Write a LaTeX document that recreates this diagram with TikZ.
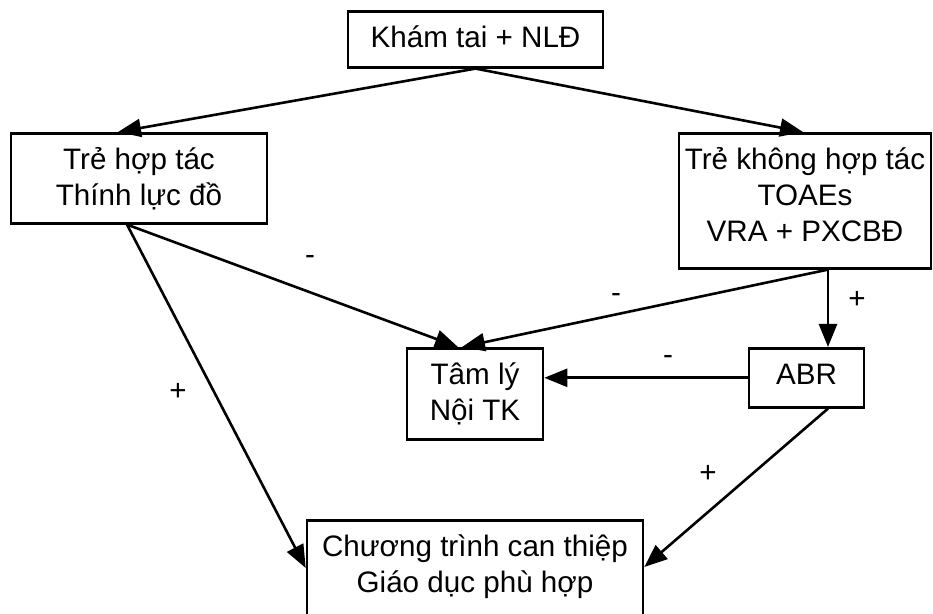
\documentclass[tikz,border=0pt]{standalone}
\usepackage{fontspec}
\setmainfont{Liberation Sans}
\usetikzlibrary{positioning, arrows.meta, calc}
\tikzset{
    box/.style={draw, line width=1.3pt, align=center, anchor=north, inner xsep=0pt, inner ysep=5.4pt, font=\fontsize{14.8}{18}\selectfont},
    sign/.style={font=\fontsize{14.8}{18}\selectfont, inner sep=0pt},
    arrow/.style={-{Triangle[length=11.5pt, width=9pt]}, line width=1.3pt}
}

\begin{document}
\begin{tikzpicture}[x=0.5pt, y=-0.5pt]
\useasboundingbox (0,0) rectangle (933,614);

% boxes
\node[box, minimum width=127.5pt, text depth=4.6pt] (kham) at (475.5,10) {\strut Khám tai + NLĐ};
\node[box, minimum width=128pt, text depth=3.6pt] (hoptac) at (139,132) {\strut Trẻ hợp tác\\Thính lực đồ};
\node[box, minimum width=126pt, text depth=8.1pt] (khongtac) at (805,132) {\strut Trẻ không hợp tác\\TOAEs\\VRA + PXCBĐ};
\node[box, minimum width=68pt, text depth=4.1pt] (tamly) at (475,347) {\strut Tâm lý\\Nội TK};
\node[box, minimum width=57.5pt, text depth=6.1pt] (abr) at (806.5,347) {\strut ABR};
\node[box, minimum width=168pt, text depth=40pt] (chuong) at (475,519) {\strut Chương trình can thiệp\\Giáo dục phù hợp};

\coordinate (hl) at ($(hoptac.south)+(-12,0)$);
\coordinate (kr) at ($(khongtac.south)+(23,0)$);

% connectors
\draw[arrow] (kham.south) -- ($(hoptac.north)+(-21,0)$);
\draw[arrow] (kham.south) -- ($(khongtac.north)+(-2,0)$);
\draw[arrow] (hl) -- ($(tamly.north)+(-17,0)$);
\draw[arrow] (hl) -- ($(chuong.north west)+(0,49)$);
\draw[arrow] (kr) -- ($(tamly.north)+(-13,0)$);
\draw[arrow] (kr) -- (kr |- abr.north);
\draw[arrow] (abr.west) -- (abr.west -| tamly.east);
\draw[arrow] ($(abr.south)+(21.5,0)$) -- ($(chuong.north east)+(0,48)$);

% signs
\node[sign] (s1) at (310,260) {-};
\node[sign] (s2) at (616,298) {-};
\node[sign] (s3) at (857,300) {+};
\node[sign] (s4) at (668,360) {-};
\node[sign] (s5) at (178,392) {+};
\node[sign] (s6) at (708,474) {+};
\end{tikzpicture}
\end{document}
